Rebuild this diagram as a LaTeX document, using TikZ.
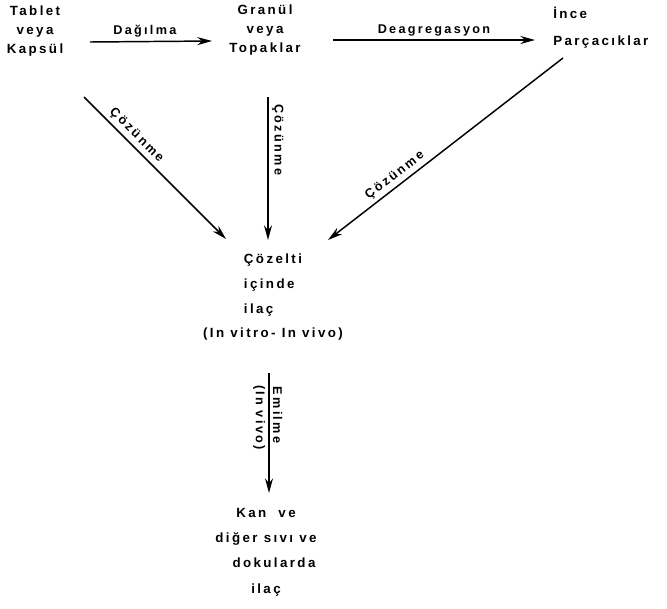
\documentclass[tikz,border=0pt]{standalone}
\usepackage{fontspec}
\setmainfont{Liberation Sans}[LetterSpace=18]
\usetikzlibrary{arrows.meta}

\tikzset{
  txt/.style={align=center, inner sep=0pt, font=\fontsize{10}{14}\selectfont\bfseries},
  arr/.style={line width=1.1pt, -{Stealth[length=11pt, width=6pt]}},
  lbl/.style={inner sep=2.5pt, font=\fontsize{9.5}{11}\selectfont\bfseries}
}

\begin{document}
\begin{tikzpicture}[x=0.75pt, y=-0.75pt]
  \useasboundingbox (0,0) rectangle (667,608);

  % Nodes
  \node[txt] (tablet) at (35,31) {Tablet\\veya\\Kapsül};
  \node[txt] (granul) at (265,30) {Granül\\veya\\Topaklar};
  \node[txt, align=left, anchor=west] (ince) at (553,28) {İnce\\[6pt]Parçacıklar};
  \node[txt] (cozelti) at (273,295)
    {\begin{tabular}{@{}l@{}}Çözelti\\[5pt]içinde\\[5pt]ilaç\end{tabular}\\[5pt](In vitro-~In vivo)};
  \node[txt] (kan) at (266,552) {Kan~ ve\\[5pt]diğer sıvı ve\\[5pt]\hspace*{12pt}dokularda\\[5pt]ilaç};

  % Dissolution paths
  \draw[arr] ([shift={(55,11)}]tablet.center) -- ([shift={(-53,11)}]granul.center)
    node[lbl, pos=0.45, above] {Dağılma};
  \draw[arr] ([shift={(68,10)}]granul.center) -- ([shift={(-18,12)}]ince.west)
    node[lbl, midway, above] {Deagregasyon};
  \draw[arr] ([shift={(49,66)}]tablet.center) -- ([shift={(-47,-56)}]cozelti.center)
    node[lbl, pos=0.32, sloped, above] {Çözünme};
  \draw[arr] ([shift={(3,67)}]granul.center) -- ([shift={(-5,-55)}]cozelti.center)
    node[lbl, pos=0.3, sloped, above] {Çözünme};
  \draw[arr] ([shift={(10,30)}]ince.west) -- ([shift={(55,-55)}]cozelti.center)
    node[lbl, pos=0.69, sloped, above] {Çözünme};

  % Absorption
  \draw[arr] ([shift={(-4,78)}]cozelti.center) -- ([shift={(3,-59)}]kan.center)
    node[lbl, pos=0.35, sloped, above] {Emilme}
    node[lbl, pos=0.37, sloped, below] {(In vivo)};
\end{tikzpicture}
\end{document}
